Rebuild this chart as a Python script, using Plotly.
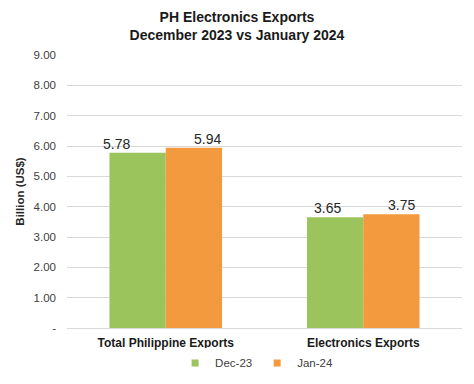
import plotly.graph_objects as go

categories = ["Total Philippine Exports", "Electronics Exports"]
dec23 = [5.78, 3.65]
jan24 = [5.94, 3.75]
tick_vals = [0, 1, 2, 3, 4, 5, 6, 7, 8, 9]
tick_text = ["-", "1.00", "2.00", "3.00", "4.00", "5.00", "6.00", "7.00", "8.00", "9.00"]

FONT = "Liberation Sans, Arial, sans-serif"
GREEN = "#9BC45C"
ORANGE = "#F29A3D"

# pixel offsets for data labels (style only)
dec_shift = [-49, -36]
jan_shift = [42, 38]

fig = go.Figure()
fig.add_trace(go.Bar(name="Dec-23", x=categories, y=dec23, marker=dict(color=GREEN, line_width=0),
                     showlegend=False))
fig.add_trace(go.Bar(name="Jan-24", x=categories, y=jan24, marker=dict(color=ORANGE, line_width=0),
                     showlegend=False))
# legend entries
fig.add_trace(go.Scatter(name="Dec-23", x=[None], y=[None], mode="markers",
                         marker=dict(symbol="square", size=7, color=GREEN)))
fig.add_trace(go.Scatter(name="Jan-24", x=[None], y=[None], mode="markers",
                         marker=dict(symbol="square", size=7, color=ORANGE)))

for vals, shifts in ((dec23, dec_shift), (jan24, jan_shift)):
    for c, v, s in zip(categories, vals, shifts):
        fig.add_annotation(x=c, y=v, text=f"{v:.2f}", showarrow=False,
                           xanchor="center", yanchor="bottom", xshift=s, yshift=-1,
                           font=dict(size=14, color="#262626", family=FONT))

fig.update_layout(
    width=474, height=384,
    barmode="group", bargap=0.43, bargroupgap=0,
    paper_bgcolor="white", plot_bgcolor="white",
    margin=dict(l=67, r=12, t=55, b=56, autoexpand=False),
    font=dict(family=FONT, color="#404040"),
    title=dict(text="<b>PH Electronics Exports<br>December 2023 vs January 2024</b>",
               x=0.5, xanchor="center", y=0.942, yanchor="top",
               font=dict(size=14, color="#1a1a1a", family=FONT)),
    legend=dict(orientation="h", x=0.48, xanchor="center", yref="container", y=0.055, yanchor="middle",
                font=dict(size=11.5, color="#404040"), itemwidth=30, tracegroupgap=0),
    showlegend=True,
)
fig.update_yaxes(range=[0, 9], tickvals=tick_vals, ticktext=tick_text,
                 showgrid=True, gridcolor="#D9D9D9", gridwidth=1,
                 zeroline=False, showline=False, automargin=False,
                 tickfont=dict(size=11.5, color="#404040"), ticks="", ticklabelstandoff=10,
                 title=dict(text="<b>Billion (US$)</b>", font=dict(size=11.5, color="#262626"), standoff=6))
fig.update_xaxes(showline=True, linecolor="#D9D9D9", linewidth=1, automargin=False,
                 tickfont=dict(size=12, color="#1a1a1a"), ticklabelstandoff=4,
                 ticktext=[f"<b>{c}</b>" for c in categories], tickvals=categories)

fig.write_html("out.html", config={"displayModeBar": False},
               post_script="document.body.style.margin='0';document.body.style.padding='0';")
